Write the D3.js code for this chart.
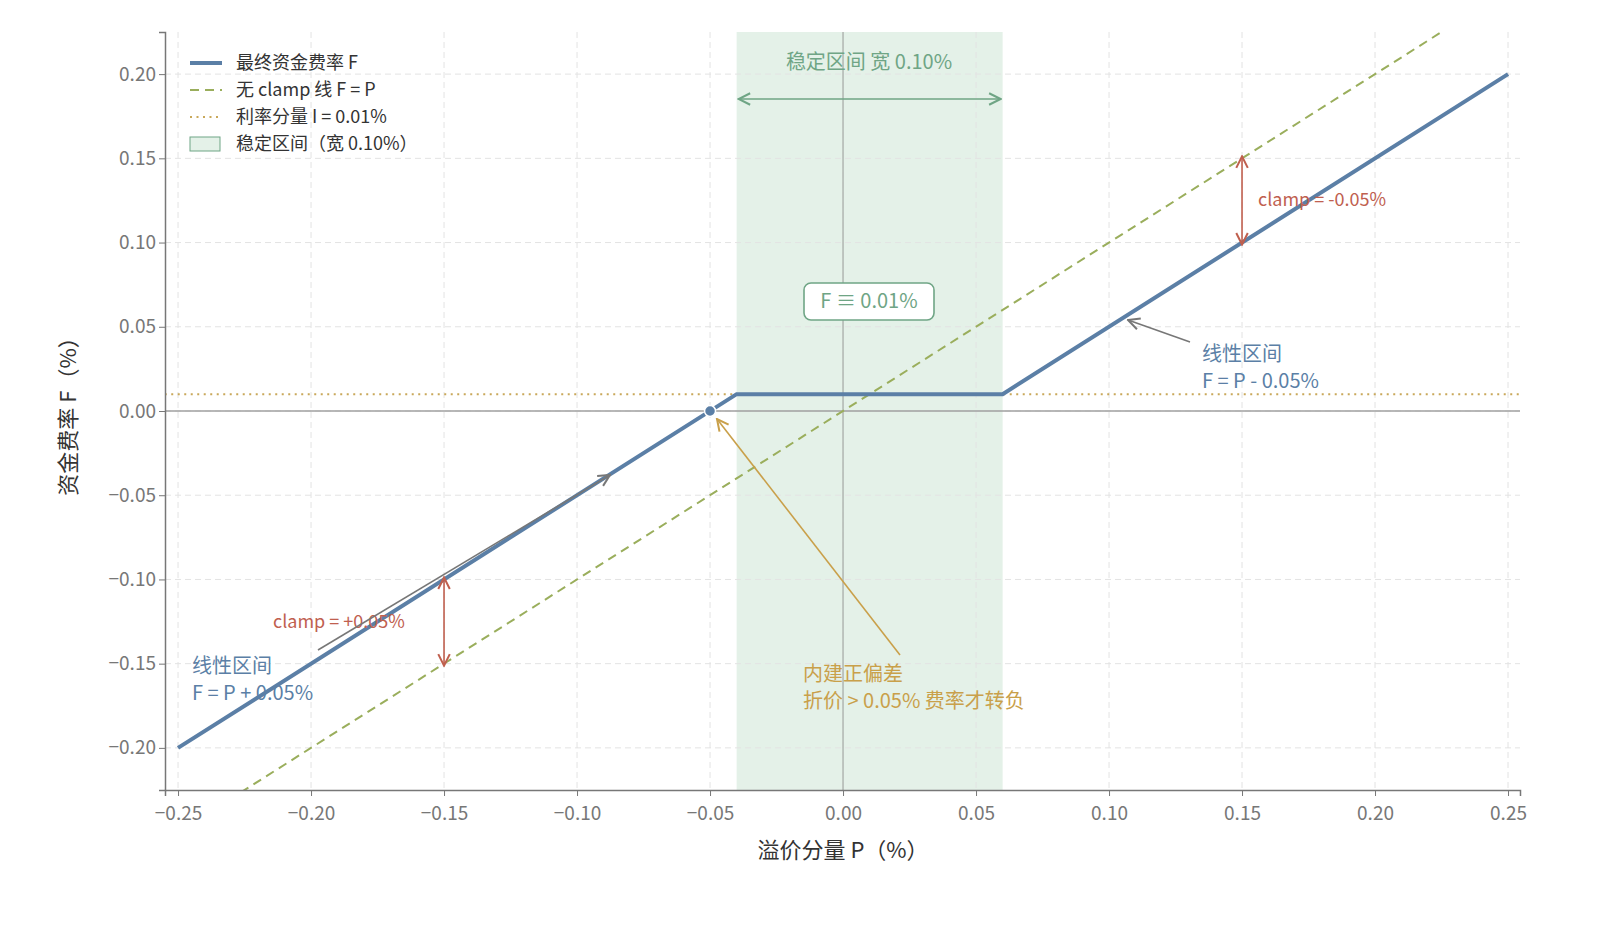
<!DOCTYPE html>
<html><head><meta charset="utf-8">
<script src="https://cdn.jsdelivr.net/npm/d3@7"></script>
<style>html,body{margin:0;padding:0;background:#fff;overflow:hidden}svg{display:block}text{font-family:"Noto Sans CJK SC","Noto Sans",sans-serif}</style>
</head><body>
<script>
width = 1600; height = 933;
margin = {top: 32, right: 80, bottom: 143, left: 165};

// data
const xTicks = [-0.25,-0.20,-0.15,-0.10,-0.05,0.00,0.05,0.10,0.15,0.20,0.25];
const yTicks = [-0.20,-0.15,-0.10,-0.05,0.00,0.05,0.10,0.15,0.20];
const rateI = 0.01;
const clampW = 0.05;
const bandLo = -0.04, bandHi = 0.06;
const fundingP = [-0.25, -0.04, 0.06, 0.25];
const fundingF = [-0.20, 0.01, 0.01, 0.20];
const noClampP = [-0.255, 0.255];

const x = d3.scaleLinear().domain([-0.2549, 0.2545]).range([margin.left, width - margin.right]);
const y = d3.scaleLinear().domain([-0.225, 0.225]).range([height - margin.bottom, margin.top]);
const fmt = d3.format(".2f");

const svg = d3.select("body").append("svg").attr("width", width).attr("height", height);
svg.append("defs").append("clipPath").attr("id","clip").append("rect")
  .attr("x", margin.left).attr("y", margin.top)
  .attr("width", x.range()[1]-margin.left).attr("height", y.range()[0]-margin.top);
const defs = svg.select("defs");
[["gray","#777"],["red","#c0604f"],["gold","#c9a04a"],["green","#6fa585"]].forEach(([id,c])=>{
  defs.append("marker").attr("id","ar-"+id).attr("viewBox","0 0 10 10").attr("refX",9).attr("refY",5)
    .attr("markerWidth",9).attr("markerHeight",9).attr("orient","auto-start-reverse")
    .append("path").attr("d","M1,1L9,5L1,9").attr("fill","none").attr("stroke",c).attr("stroke-width",1.4);
});

// band
svg.append("rect").attr("x", x(bandLo)).attr("y", margin.top).attr("width", x(bandHi)-x(bandLo))
  .attr("height", y.range()[0]-margin.top).attr("fill","#e4f1e8");

// grid
svg.append("g").selectAll("line").data(xTicks).join("line")
  .attr("x1", d=>x(d)).attr("x2", d=>x(d)).attr("y1", margin.top).attr("y2", y.range()[0])
  .attr("stroke","#e3e3e3").attr("stroke-dasharray","6,4");
svg.append("g").selectAll("line").data(yTicks).join("line")
  .attr("y1", d=>y(d)).attr("y2", d=>y(d)).attr("x1", margin.left).attr("x2", x.range()[1])
  .attr("stroke","#e3e3e3").attr("stroke-dasharray","6,4");

// zero lines
svg.append("line").attr("x1", margin.left).attr("x2", x.range()[1]).attr("y1", y(0)).attr("y2", y(0)).attr("stroke","#a0a0a0").attr("stroke-width",1.5);
svg.append("line").attr("x1", x(0)).attr("x2", x(0)).attr("y1", margin.top).attr("y2", y.range()[0]).attr("stroke","#b0b8b2").attr("stroke-width",1.5);

const plot = svg.append("g").attr("clip-path","url(#clip)");
const line = d3.line().x(d=>x(d[0])).y(d=>y(d[1]));
plot.append("path").attr("d", line([[-0.255, rateI],[0.255, rateI]])).attr("stroke","#c9a85a").attr("stroke-width",2).attr("stroke-dasharray","2,4.5").attr("fill","none");
plot.append("path").attr("d", line(noClampP.map(p=>[p,p]))).attr("stroke","#9aae5c").attr("stroke-width",2).attr("stroke-dasharray","9,6").attr("fill","none");
plot.append("path").attr("d", line(fundingP.map((p,i)=>[p,fundingF[i]]))).attr("stroke","#5b7fa6").attr("stroke-width",4).attr("fill","none");
svg.append("circle").attr("cx", x(-clampW)).attr("cy", y(0)).attr("r",5.5).attr("fill","#5b7fa6").attr("stroke","#fff").attr("stroke-width",1.5);

// axes
const xAxis = svg.append("g").attr("transform",`translate(0,${y.range()[0]})`)
  .call(d3.axisBottom(x).tickValues(xTicks).tickFormat(fmt).tickSize(6));
const yAxis = svg.append("g").attr("transform",`translate(${margin.left},0)`)
  .call(d3.axisLeft(y).tickValues(yTicks).tickFormat(fmt).tickSize(6));
[xAxis, yAxis].forEach(g=>{
  g.select(".domain").attr("stroke","#777").attr("stroke-width",1.5);
  g.selectAll(".tick line").attr("stroke","#777");
  g.selectAll(".tick text").attr("fill","#777").style("font-size","19px").style("font-family","'Noto Sans CJK SC',sans-serif");
});
xAxis.selectAll(".tick text").attr("dy","1.1em");

svg.append("text").attr("x", x(0)).attr("y", 858).attr("text-anchor","middle").attr("fill","#333").style("font-size","22px").text("溢价分量 P（%）");
svg.append("text").attr("transform",`translate(76,${y(0)}) rotate(-90)`).attr("text-anchor","middle").attr("fill","#333").style("font-size","22px").text("资金费率 F（%）");

// annotations
function txt(xp, yp, s, c, size, anchor){
  return svg.append("text").attr("x",xp).attr("y",yp).attr("fill",c).style("font-size",size+"px").attr("text-anchor",anchor||"start").text(s);
}
function arrow(x1,y1,x2,y2,id,c,both){
  svg.append("line").attr("x1",x1).attr("y1",y1).attr("x2",x2).attr("y2",y2).attr("stroke",c).attr("stroke-width",1.6)
    .attr("marker-end","url(#ar-"+id+")").attr("marker-start", both?"url(#ar-"+id+")":null);
}
arrow(x(bandLo)+2, 99, x(bandHi)-2, 99, "green", "#6fa585", true);
txt(869, 69, "稳定区间 宽 0.10%", "#6fa585", 20, "middle");
svg.append("rect").attr("x",804).attr("y",283).attr("width",130).attr("height",37).attr("rx",7).attr("fill","#fff").attr("stroke","#6fa585").attr("stroke-width",1.6);
txt(869, 308, "F ≡ 0.01%", "#6fa585", 20, "middle");
arrow(x(-0.15), y(-0.10)-2, x(-0.15), y(-0.15)+2, "red", "#c0604f", true);
arrow(x(0.15), y(0.10)+2, x(0.15), y(0.15)-2, "red", "#c0604f", true);
txt(273, 628, "clamp = +0.05%", "#c0604f", 18);
txt(1258, 206, "clamp = -0.05%", "#c0604f", 18);
arrow(1190, 342, 1128, 320, "gray", "#777");
txt(1202, 361, "线性区间", "#5b7fa6", 20);
txt(1202, 388, "F = P - 0.05%", "#5b7fa6", 20);
arrow(318, 650, 610, 475, "gray", "#777");
txt(192, 673, "线性区间", "#5b7fa6", 20);
txt(192, 700, "F = P + 0.05%", "#5b7fa6", 20);
arrow(900, 655, 717, 419, "gold", "#c9a04a");
txt(803, 681, "内建正偏差", "#c9a04a", 20);
txt(803, 708, "折价 > 0.05% 费率才转负", "#c9a04a", 20);

// legend
const lg = svg.append("g").attr("transform","translate(190,63)");
const items = ["最终资金费率 F","无 clamp 线 F = P","利率分量 I = 0.01%","稳定区间（宽 0.10%）"];
items.forEach((s,i)=>{
  const yy = i*27;
  if(i===0) lg.append("line").attr("x1",0).attr("x2",32).attr("y1",yy).attr("y2",yy).attr("stroke","#5b7fa6").attr("stroke-width",4);
  if(i===1) lg.append("line").attr("x1",0).attr("x2",32).attr("y1",yy).attr("y2",yy).attr("stroke","#9aae5c").attr("stroke-width",2).attr("stroke-dasharray","9,6");
  if(i===2) lg.append("line").attr("x1",0).attr("x2",32).attr("y1",yy).attr("y2",yy).attr("stroke","#c9a85a").attr("stroke-width",2).attr("stroke-dasharray","2,4.5");
  if(i===3) lg.append("rect").attr("x",0).attr("y",yy-7).attr("width",30).attr("height",14).attr("fill","#e4f1e8").attr("stroke","#6fa585");
  lg.append("text").attr("x",46).attr("y",yy+6).attr("fill","#333").style("font-size","18px").text(s);
});
</script>
</body></html>
